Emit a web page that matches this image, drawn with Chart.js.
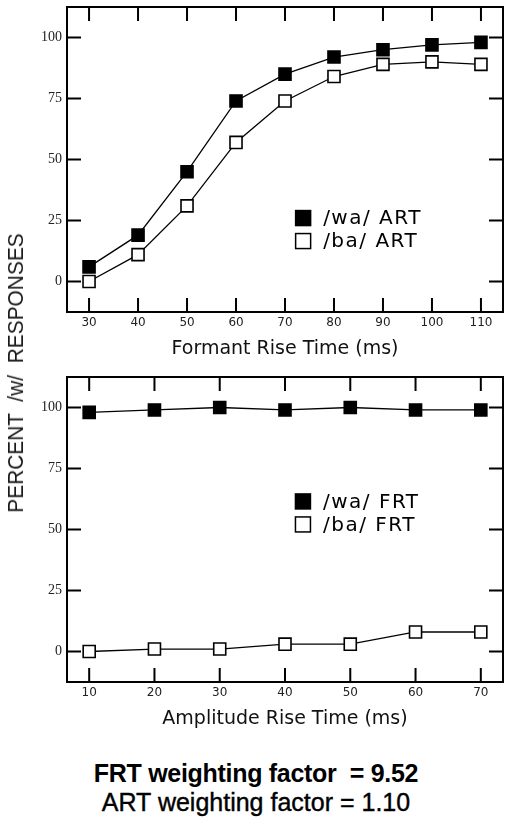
<!DOCTYPE html>
<html>
<head>
<meta charset="utf-8">
<script src="https://cdn.jsdelivr.net/npm/chart.js@4/dist/chart.umd.min.js"></script>
<style>
    html, body { margin: 0; padding: 0; background: #fff; }
    body { width: 512px; height: 820px; position: relative; overflow: hidden; }
    .box { position: absolute; left: 0; width: 512px; height: 365px; }
    #ytitle {
        position: absolute; left: 16px; top: 373px;
        transform: translate(-50%, -50%) rotate(-90deg) scaleX(0.95);
        font: 22px "Liberation Sans", Arial, sans-serif; color: #1a1a1a;
        white-space: pre; line-height: 22px;
    }
    .note {
        position: absolute; left: 0; width: 512px; text-align: center;
        font-family: "Liberation Sans", Arial, sans-serif; font-size: 25px;
        line-height: 30px; white-space: pre; color: #000;
    }
    #note1 { top: 758px; font-weight: bold; letter-spacing: -0.3px; }
    #note2 { top: 787px; -webkit-text-stroke: 0.4px #000; }
</style>
</head>
<body>
<div class="box" style="top:0"><canvas id="top"></canvas></div>
<div class="box" style="top:370px"><canvas id="bottom"></canvas></div>
<div id="ytitle">PERCENT  /w/  RESPONSES</div>
<div class="note" id="note1">FRT weighting factor  = 9.52</div>
<div class="note" id="note2">ART weighting factor = 1.10</div>
<script>
// data
const formantRise = [30, 40, 50, 60, 70, 80, 90, 100, 110];
const waART = [6, 19, 45, 74, 85, 92, 95, 97, 98];
const baART = [0, 11, 31, 57, 74, 84, 89, 90, 89];

const ampRise = [10, 20, 30, 40, 50, 60, 70];
const waFRT = [98, 99, 100, 99, 100, 99, 99];
const baFRT = [0, 1, 1, 3, 3, 8, 8];

const percentTicks = [0, 25, 50, 75, 100];

// frame with inward ticks, plus the key, drawn inside the plot area
const frameAndKey = {
    id: "frameAndKey",
    afterDatasetsDraw(chart, args, opts) {
        const { ctx, chartArea: a, scales: { x, y } } = chart;
        ctx.save();
        ctx.strokeStyle = "#000";
        ctx.lineWidth = 2;
        ctx.strokeRect(a.left, a.top, a.right - a.left, a.bottom - a.top);
        ctx.fillStyle = "#000";
        x.ticks.forEach((t) => {
            const px = x.getPixelForValue(t.value);
            ctx.fillRect(px - 1, a.bottom - 14, 2, 14);
            ctx.fillRect(px - 1, a.top, 2, 14);
        });
        y.ticks.forEach((t) => {
            const py = y.getPixelForValue(t.value);
            ctx.fillRect(a.left, py - 1, 14, 2);
            ctx.fillRect(a.right - 14, py - 1, 14, 2);
        });

        const cx = x.getPixelForValue(opts.x);
        let cy = y.getPixelForValue(opts.y);
        ctx.font = '20px "DejaVu Sans", sans-serif';
        ctx.letterSpacing = "1.5px";
        ctx.textBaseline = "middle";
        chart.data.datasets.forEach((ds) => {
            ctx.fillStyle = ds.pointBackgroundColor;
            ctx.fillRect(cx - 7.5, cy - 7.5, 15, 15);
            ctx.strokeStyle = "#000";
            ctx.lineWidth = 1.5;
            ctx.strokeRect(cx - 7.5, cy - 7.5, 15, 15);
            ctx.fillStyle = "#000";
            ctx.fillText(ds.label, cx + 20, cy + 1);
            cy += 23;
        });
        ctx.restore();
    },
};

function series(label, xs, ys, filled) {
    return {
        label: label,
        data: xs.map((v, i) => ({ x: v, y: ys[i] })),
        borderColor: "#000",
        borderWidth: 1.3,
        pointStyle: "rect",
        pointRadius: 8.5,
        pointBorderWidth: 1.6,
        pointBorderColor: "#000",
        pointBackgroundColor: filled ? "#000" : "#fff",
        tension: 0,
        fill: false,
    };
}

function makeChart(id, xs, xmin, xmax, xtitle, datasets, keyPos) {
    return new Chart(document.getElementById(id), {
        type: "line",
        data: { datasets: datasets },
        options: {
            responsive: true,
            maintainAspectRatio: false,
            animation: false,
            layout: { autoPadding: false, padding: { top: 7, right: 9, left: 0, bottom: 0 } },
            plugins: {
                legend: { display: false },
                tooltip: { enabled: false },
                frameAndKey: keyPos,
            },
            scales: {
                x: {
                    type: "linear",
                    min: xmin,
                    max: xmax,
                    afterBuildTicks: (s) => { s.ticks = xs.map((v) => ({ value: v })); },
                    afterFit: (s) => { s.height = 53; s.paddingLeft = 0; s.paddingRight = 0; },
                    grid: { display: false, drawTicks: false },
                    border: { display: false },
                    ticks: {
                        padding: 4,
                        color: "#222",
                        font: { family: "DejaVu Sans", size: 12 },
                    },
                    title: {
                        display: true,
                        text: xtitle,
                        color: "#111",
                        font: { family: "DejaVu Sans", size: 19 },
                        padding: { top: 0, bottom: 5 },
                    },
                },
                y: {
                    type: "linear",
                    min: -12.5,
                    max: 112.5,
                    afterBuildTicks: (s) => { s.ticks = percentTicks.map((v) => ({ value: v })); },
                    afterFit: (s) => { s.width = 67; s.paddingTop = 0; s.paddingBottom = 0; },
                    grid: { display: false, drawTicks: false },
                    border: { display: false },
                    ticks: {
                        padding: 5,
                        color: "#222",
                        font: { family: "Liberation Serif", size: 14 },
                    },
                },
            },
        },
        plugins: [frameAndKey],
    });
}

makeChart("top", formantRise, 25.5, 114.5, "Formant Rise Time (ms)", [
    series("/wa/ ART", formantRise, waART, true),
    series("/ba/ ART", formantRise, baART, false),
], { x: 73.7, y: 26 });

makeChart("bottom", ampRise, 6.6, 73.4, "Amplitude Rise Time (ms)", [
    series("/wa/ FRT", ampRise, waFRT, true),
    series("/ba/ FRT", ampRise, baFRT, false),
], { x: 42.75, y: 61.5 });
</script>
</body>
</html>
